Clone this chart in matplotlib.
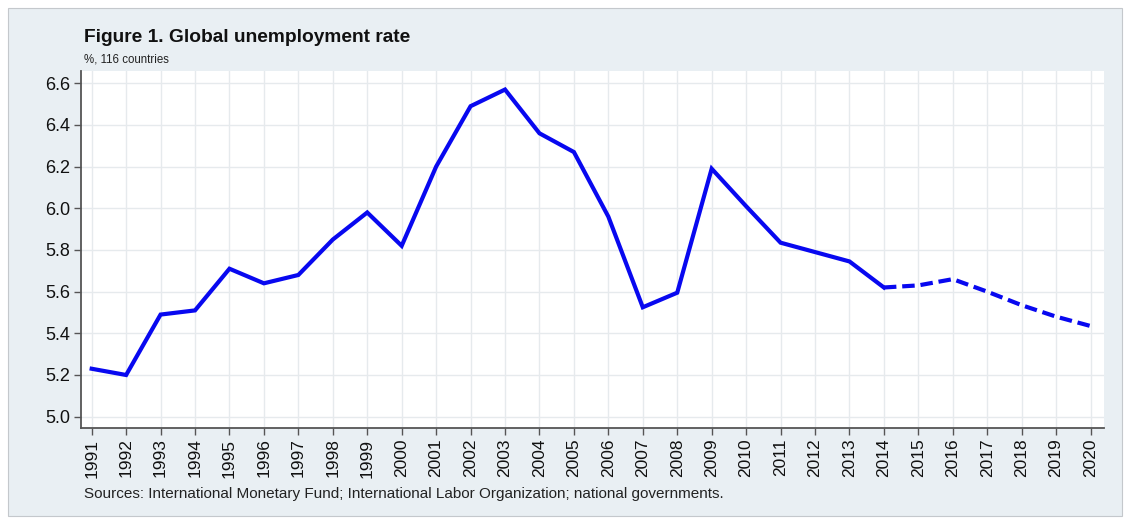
"""
Global unemployment rate, 1991-2020 (actual to 2014, projected after).
Output: out.png
"""

import matplotlib.pyplot as plt
from matplotlib.patches import Rectangle

plt.rcParams['font.family'] = ['Liberation Sans', 'DejaVu Sans']

# Data
years = list(range(1991, 2021))
rate = [5.23, 5.20, 5.49, 5.51, 5.71, 5.64, 5.68, 5.85, 5.98, 5.82,
        6.20, 6.49, 6.57, 6.36, 6.27, 5.96, 5.525, 5.595, 6.19, 6.01,
        5.835, 5.79, 5.745, 5.62, 5.63, 5.66, 5.60, 5.535, 5.48, 5.435]
last_actual = 2014
y_ticks = [5.0, 5.2, 5.4, 5.6, 5.8, 6.0, 6.2, 6.4, 6.6]

title = "Figure 1. Global unemployment rate"
subtitle = "%, 116 countries"
source = "Sources: International Monetary Fund; International Labor Organization; national governments."


def main():
    W, H = 1128, 521
    fig = plt.figure(figsize=(W / 100, H / 100), dpi=100, facecolor='white')

    # light grey panel behind everything
    fig.patches.append(Rectangle((8 / W, 5 / H), 1114 / W, 508 / H,
                                 transform=fig.transFigure, facecolor='#e9eff3',
                                 edgecolor='#c4c8cc', linewidth=0.8, zorder=-10))

    ax = fig.add_axes([81 / W, 1 - 427.5 / H, (1104 - 81) / W, (427.5 - 71) / H])
    ax.set_facecolor('white')

    # actual values solid, projections dashed
    split = years.index(last_actual) + 1
    line_color = '#0808f0'
    ax.plot(years[:split], rate[:split], color=line_color, linewidth=3.0,
            solid_joinstyle='miter', zorder=3)
    ax.plot(years[split - 1:], rate[split - 1:], color=line_color, linewidth=3.0,
            linestyle=(0, (3.0, 1.4)), zorder=3)

    ax.set_xlim(1990.69, 2020.39)
    ax.set_ylim(4.948, 6.659)
    ax.set_xticks(years)
    ax.set_xticklabels([str(y) for y in years], rotation=90, fontsize=12.5)
    ax.set_yticks(y_ticks)
    ax.set_yticklabels([f"{v:.1f}" for v in y_ticks], fontsize=13)

    ax.grid(True, color='#e6eaed', linewidth=1.0)
    ax.set_axisbelow(True)
    for side in ('top', 'right'):
        ax.spines[side].set_visible(False)
    for side in ('left', 'bottom'):
        ax.spines[side].set_color('#555555')
        ax.spines[side].set_linewidth(1.3)
    ax.tick_params(axis='both', direction='out', length=5, width=1.0,
                   color='#555555', labelcolor='#111111', pad=3)

    fig.text(84 / W, 1 - 37 / H, title, fontsize=13.8, fontweight='bold',
             color='#111111', va='center', ha='left')
    fig.text(84 / W, 1 - 60 / H, subtitle, fontsize=8.3, color='#222222',
             va='center', ha='left')
    fig.text(84 / W, 1 - 494 / H, source, fontsize=11, color='#222222',
             va='center', ha='left')

    fig.savefig('out.png', dpi=100)
    plt.close(fig)


if __name__ == "__main__":
    main()
